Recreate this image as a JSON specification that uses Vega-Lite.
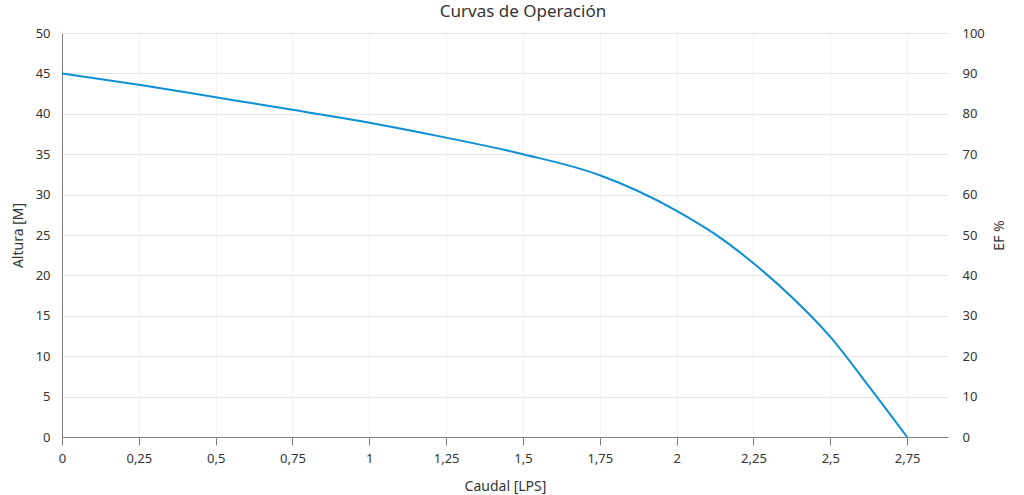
{
  "$schema": "https://vega.github.io/schema/vega-lite/v6.json",
  "width": 886,
  "height": 404,
  "autosize": "none",
  "padding": {"left": 62, "top": 33, "right": 76, "bottom": 58},
  "background": "white",
  "title": {
    "text": "Curvas de Operación",
    "font": "Noto Sans",
    "fontSize": 17,
    "fontWeight": "normal",
    "color": "#333333",
    "offset": 6,
    "dx": 18
  },
  "config": {
    "font": "Noto Sans",
    "view": {"stroke": null},
    "axis": {
      "labelFont": "Noto Sans",
      "titleFont": "Noto Sans",
      "labelFontSize": 13,
      "titleFontSize": 14,
      "labelColor": "#333333",
      "titleColor": "#333333",
      "titleFontWeight": "normal"
    }
  },
  "layer": [
    {
      "data": {
        "values": [
          {"caudal": 0, "altura": 45.0},
          {"caudal": 0.25, "altura": 43.6},
          {"caudal": 0.5, "altura": 42.05},
          {"caudal": 0.75, "altura": 40.5},
          {"caudal": 1.0, "altura": 38.9},
          {"caudal": 1.25, "altura": 37.05},
          {"caudal": 1.5, "altura": 35.0},
          {"caudal": 1.75, "altura": 32.4},
          {"caudal": 2.0, "altura": 28.0},
          {"caudal": 2.125, "altura": 25.1},
          {"caudal": 2.25, "altura": 21.5},
          {"caudal": 2.375, "altura": 17.3},
          {"caudal": 2.5, "altura": 12.4},
          {"caudal": 2.625, "altura": 6.3},
          {"caudal": 2.75, "altura": 0}
        ]
      },
      "mark": {"type": "line", "color": "#0d8fd6", "strokeWidth": 2, "interpolate": "monotone"},
      "encoding": {
        "x": {
          "field": "caudal",
          "type": "quantitative",
          "title": "Caudal [LPS]",
          "scale": {"domain": [0, 2.883], "nice": false, "zero": false},
          "axis": {
            "values": [0, 0.25, 0.5, 0.75, 1, 1.25, 1.5, 1.75, 2, 2.25, 2.5, 2.75],
            "labelExpr": "replace(format(datum.value, ''), '.', ',')",
            "labelFlush": false,
            "grid": true,
            "gridColor": "#f2f2f2",
            "domainColor": "#808080",
            "tickColor": "#808080",
            "tickSize": 8,
            "labelPadding": 7,
            "titlePadding": 14
          }
        },
        "y": {
          "field": "altura",
          "type": "quantitative",
          "title": "Altura [M]",
          "scale": {"domain": [0, 50], "nice": false},
          "axis": {
            "values": [0, 5, 10, 15, 20, 25, 30, 35, 40, 45, 50],
            "grid": true,
            "gridColor": "#e6e6e6",
            "domainColor": "#808080",
            "ticks": false,
            "labelPadding": 12,
            "titlePadding": 10
          }
        }
      }
    },
    {
      "data": {"values": [{"caudal": 0, "ef": 0}, {"caudal": 0, "ef": 100}]},
      "mark": {"type": "point", "opacity": 0},
      "encoding": {
        "x": {"field": "caudal", "type": "quantitative"},
        "y": {
          "field": "ef",
          "type": "quantitative",
          "title": "EF %",
          "scale": {"domain": [0, 100], "nice": false},
          "axis": {
            "orient": "right",
            "values": [0, 10, 20, 30, 40, 50, 60, 70, 80, 90, 100],
            "grid": false,
            "domain": false,
            "ticks": false,
            "labelPadding": 14,
            "titleAngle": 270,
            "titlePadding": 22
          }
        }
      }
    }
  ],
  "resolve": {"scale": {"y": "independent"}}
}
